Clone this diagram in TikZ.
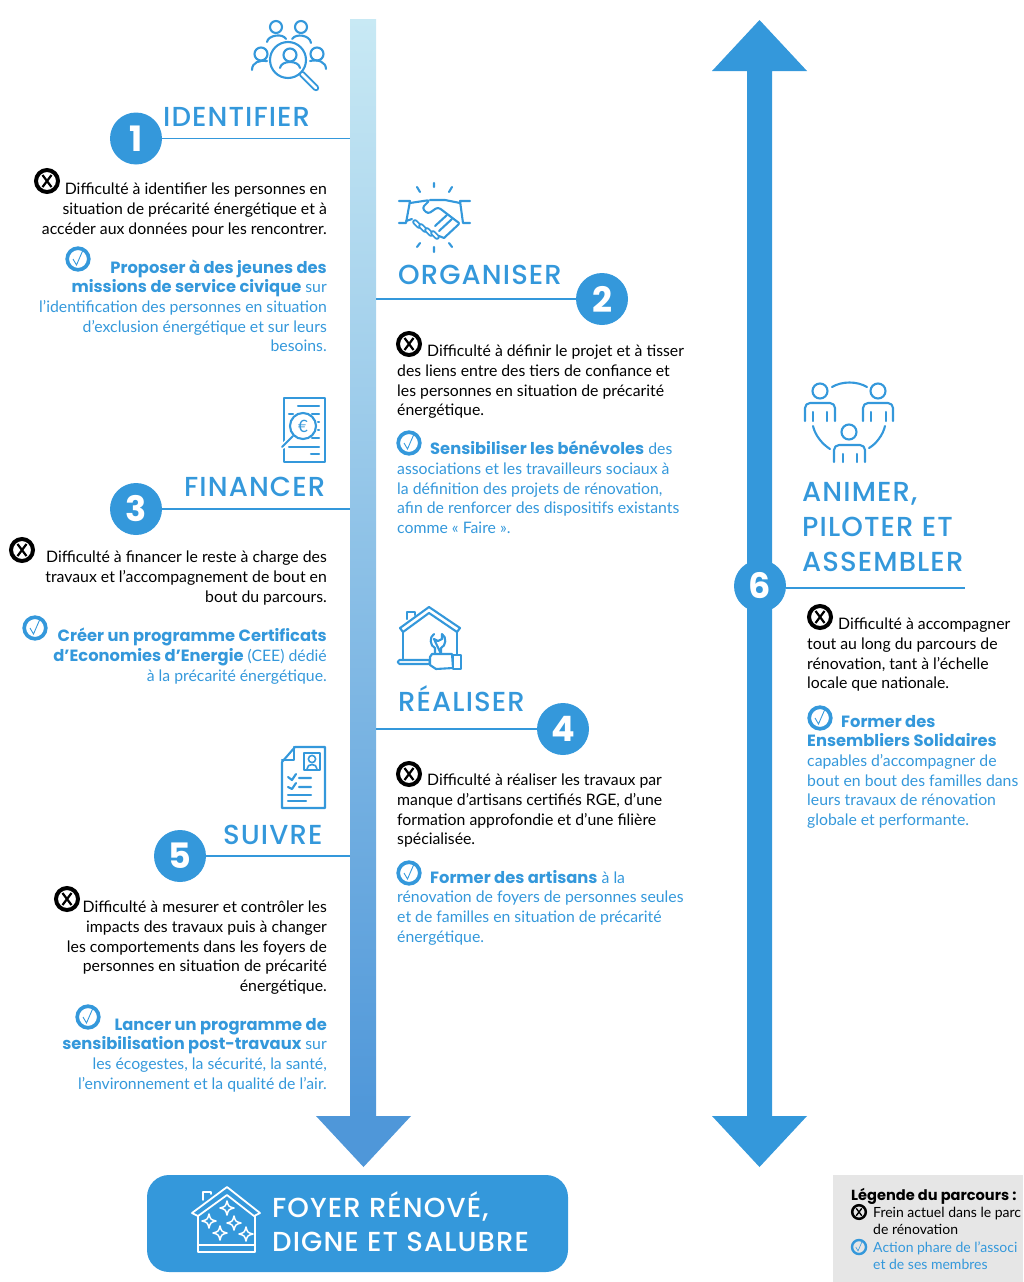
\documentclass[tikz,border=0pt]{standalone}
\usepackage{fontspec}
\usepackage{xcolor}
\setmainfont{Lato}
\newfontfamily\heavyfont{Poppins}[BoldFont={Poppins Bold}]
\newfontfamily\headfont{Poppins}[BoldFont={Poppins Medium}, LetterSpace=4]
\usetikzlibrary{positioning}
\definecolor{mainblue}{HTML}{3498DB}
\definecolor{headblue}{HTML}{4F97D9}
\definecolor{topblue}{HTML}{C8E9F4}
\definecolor{legendgray}{HTML}{E6E6E6}
\newcommand{\hv}[1]{{\heavyfont\bfseries\fontsize{16.3}{19.6}\selectfont #1}}
\tikzset{
  bodyright/.style={inner sep=0pt, yshift=-2pt, anchor=north east, align=right, font=\fontsize{15.8}{19.6}\selectfont},
  bodyleft/.style={inner sep=0pt, yshift=-2pt, anchor=north west, align=left, font=\fontsize{15.8}{19.6}\selectfont},
  stephead/.style={inner sep=0pt, anchor=base west, text=mainblue, font=\headfont\bfseries\fontsize{27.5}{30}\selectfont},
  stepdot/.style={circle, fill=mainblue, minimum size=52pt, inner sep=0pt, text=white, font=\heavyfont\bfseries\fontsize{35}{35}\selectfont},
  stepline/.style={draw=mainblue, line width=1.6pt},
  iconline/.style={draw=mainblue, line width=2.1pt, line cap=round, line join=round},
  iconwhite/.style={draw=white, line width=1.8pt, line cap=round, line join=round},
  capsule/.style={draw=mainblue, line width=6.4pt, line cap=round},
  capsuleinner/.style={draw=white, line width=2.8pt, line cap=round},
  pics/failmark/.style={code={
    \draw[black, line width=#1*4pt] (0,0) circle (11);
    \draw[black, line width=#1*2.2pt] (-4.5,-6) -- (4.5,6) (-4.5,6) -- (4.5,-6);}},
  pics/okmark/.style={code={
    \draw[mainblue, line width=#1*3.7pt] (0,0) circle (10.8);
    \draw[mainblue, line width=#1*.9pt] (-5,0) -- (-1.5,6) -- (5,-9);}}
}
\begin{document}
\begin{tikzpicture}[x=1pt, y=-1pt]
  \useasboundingbox (0,0) rectangle (1023,1282);

  % Central spine
  \node[minimum width=26pt, minimum height=1097pt, inner sep=0pt, top color=topblue, bottom color=headblue, shading angle=0] (spine) at (363,567.5) {};
  \fill[headblue] (316,1116) -- (411,1116) -- (363.5,1167) -- cycle;

  % Right double arrow
  \fill[mainblue] (747,71) -- (712,71) -- (759.5,20) -- (807,71) -- (772,71) -- (772,1116) -- (807,1116) -- (759.5,1167) -- (712,1116) -- (747,1116) -- cycle;

  % Steps
  \node[stepdot] (dotone) at (136,138.5) {1};
  \node[stepdot] (dottwo) at (602,299) {2};
  \node[stepdot] (dotthree) at (136,509) {3};
  \node[stepdot] (dotfour) at (563,729) {4};
  \node[stepdot] (dotfive) at (180,856) {5};
  \node[stepdot] (dotsix) at (760,586) {6};
  \coordinate (sixend) at (965,588);

  \draw[stepline] (dotone) -- (dotone -| spine.west);
  \draw[stepline] (dottwo) -- (dottwo -| spine.east);
  \draw[stepline] (dotthree) -- (dotthree -| spine.west);
  \draw[stepline] (dotfour) -- (dotfour -| spine.east);
  \draw[stepline] (dotfive) -- (dotfive -| spine.west);
  \draw[stepline] (dotsix.east |- sixend) -- (sixend);

  % Headings
  \node[stephead] (headone) at (163,126) {IDENTIFIER};
  \node[stephead] (headtwo) at (398,284) {ORGANISER};
  \node[stephead] (headthree) at (184,496) {FINANCER};
  \node[stephead] (headfour) at (398,711) {RÉALISER};
  \node[stephead] (headfive) at (223,844) {SUIVRE};
  \node[stephead] (headsixa) at (802,501) {ANIMER,};
  \node[stephead] (headsixb) at (802,536) {PILOTER ET};
  \node[stephead] (headsixc) at (802,571) {ASSEMBLER};

  % Step 1 text
  \pic at (47,181) {failmark=1};
  \node[bodyright] (failone) at (327,181) {Difficulté à identifier les personnes en\\situation de précarité énergétique et à\\accéder aux données pour les rencontrer.};
  \pic at (78,259) {okmark=1};
  \node[bodyright, text=mainblue] (okone) at (327,257.5) {\hv{Proposer à des jeunes des}\\\hv{missions de service civique} sur\\l’identification des personnes en situation\\d’exclusion énergétique et sur leurs\\besoins.};

  % Step 3 text
  \pic at (22,550) {failmark=1};
  \node[bodyright] (failthree) at (327,549) {Difficulté à financer le reste à charge des\\travaux et l’accompagnement de bout en\\bout du parcours.};
  \pic at (35,628) {okmark=1};
  \node[bodyright, text=mainblue] (okthree) at (327,626) {\hv{Créer un programme Certificats}\\\hv{d’Economies d’Energie} (CEE) dédié\\à la précarité énergétique.};

  % Step 5 text
  \pic at (67,899) {failmark=1};
  \node[bodyright] (failfive) at (327,899) {Difficulté à mesurer et contrôler les\\impacts des travaux puis à changer\\les comportements dans les foyers de\\personnes en situation de précarité\\énergétique.};
  \pic at (88,1017) {okmark=1};
  \node[bodyright, text=mainblue] (okfive) at (327,1016) {\hv{Lancer un programme de}\\\hv{sensibilisation post-travaux} sur\\les écogestes, la sécurité, la santé,\\l’environnement et la qualité de l’air.};

  % Step 2 text
  \pic at (409,344) {failmark=1};
  \node[bodyleft] (failtwo) at (397,343) {\hspace*{30pt}Difficulté à définir le projet et à tisser\\des liens entre des tiers de confiance et\\les personnes en situation de précarité\\énergétique.};
  \pic at (409,443) {okmark=1};
  \node[bodyleft, text=mainblue] (oktwo) at (397,439) {\hspace*{33pt}\hv{Sensibiliser les bénévoles} des\\associations et les travailleurs sociaux à\\la définition des projets de rénovation,\\afin de renforcer des dispositifs existants\\comme « Faire ».};

  % Step 4 text
  \pic at (409,774) {failmark=1};
  \node[bodyleft] (failfour) at (397,772) {\hspace*{30pt}Difficulté à réaliser les travaux par\\manque d’artisans certifiés RGE, d’une\\formation approfondie et d’une filière\\spécialisée.};
  \pic at (409,873) {okmark=1};
  \node[bodyleft, text=mainblue] (okfour) at (397,868) {\hspace*{33pt}\hv{Former des artisans} à la\\rénovation de foyers de personnes seules\\et de familles en situation de précarité\\énergétique.};

  % Step 6 text
  \pic at (820,617) {failmark=1};
  \node[bodyleft] (failsix) at (807,616) {\hspace*{31pt}Difficulté à accompagner\\tout au long du parcours de\\rénovation, tant à l’échelle\\locale que nationale.};
  \pic at (820,718) {okmark=1};
  \node[bodyleft, text=mainblue] (oksix) at (807,713) {\hspace*{34pt}\hv{Former des}\\\hv{Ensembliers Solidaires}\\capables d’accompagner de\\bout en bout des familles dans\\leurs travaux de rénovation\\globale et performante.};

  % Result box
  \node[rounded corners=22pt, fill=mainblue, minimum width=421pt, minimum height=97pt, inner sep=0pt] (result) at (357.5,1223.5) {};
  \node[stephead, text=white] (resulta) at (272,1217) {FOYER RÉNOVÉ,};
  \node[stephead, text=white] (resultb) at (272,1251) {DIGNE ET SALUBRE};
  \draw[iconwhite] (192,1213) -- (227,1187) -- (260,1213) -- (254,1216) -- (227,1195) -- (198,1216) -- cycle;
  \draw[iconwhite] (203,1200) -- (203,1192) -- (211,1192) -- (211,1194);
  \draw[iconwhite] (198,1216) -- (198,1252) -- (255,1252) -- (255,1216) (198,1245) -- (255,1245);
  \foreach \px/\py in {227/1208, 209/1221, 234/1223, 220/1233, 246/1234}
    \draw[iconwhite, line width=1.5pt] (\px,\py-7) .. controls (\px+1.5,\py-1.5) .. (\px+7,\py) .. controls (\px+1.5,\py+1.5) .. (\px,\py+7) .. controls (\px-1.5,\py+1.5) .. (\px-7,\py) .. controls (\px-1.5,\py-1.5) .. cycle;

  % Legend
  \fill[legendgray] (833,1175) rectangle (1023,1282);
  \node[inner sep=0pt, anchor=base west, font=\heavyfont\bfseries\fontsize{14.6}{17}\selectfont] (legendtitle) at (851,1200) {Légende du parcours :};
  \node[inner sep=0pt, anchor=north west, align=left, font=\fontsize{14}{17.4}\selectfont] (legendfail) at (873,1207) {Frein actuel dans le parc\\de rénovation};
  \node[inner sep=0pt, anchor=north west, align=left, text=mainblue, font=\fontsize{14}{17.4}\selectfont] (legendok) at (873,1241.5) {Action phare de l’associ\\et de ses membres};
  \pic[scale=.62] at (859,1212) {failmark=.62};
  \pic[scale=.65] at (859,1247) {okmark=.65};

  % Icon people search
  \draw[iconline] (276,27) circle (6) (301,27) circle (6) (261,54) circle (6.5) (317,54) circle (6.5);
  \draw[iconline] (267,42) .. controls (268,35) and (283,33) .. (286,39);
  \draw[iconline] (292,39) .. controls (296,33) and (310,35) .. (311,43);
  \draw[iconline] (252,70) .. controls (252,62) and (260,60) .. (267,61);
  \draw[iconline] (310,61) .. controls (318,59) and (326,62) .. (326,69);
  \draw[capsule] (302,74) -- (316,88);
  \draw[capsuleinner] (302,74) -- (316,88);
  \draw[iconline, fill=white] (288,60) circle (18);
  \draw[iconline] (290,55) circle (6.5);
  \draw[iconline] (280,68) .. controls (281,60) and (299,60) .. (300,68);

  % Icon handshake
  \draw[iconline] (434,183) -- (434,187) (417,187) -- (420,192) (452,187) -- (449,192);
  \draw[iconline] (434,247) -- (434,252) (417,247) -- (420,243) (452,247) -- (449,243);
  \draw[iconline] (399,201) -- (410,201) -- (406,223) -- (399,223);
  \draw[iconline] (470,201) -- (460,201) -- (463,223) -- (470,223);
  \draw[iconline, rounded corners=3pt] (410,203) -- (430,200) -- (422,208) -- (428,214) -- (438,207) -- (459,223);
  \draw[iconline] (430,200) -- (445,200) -- (460,203);
  \draw[iconline] (406,221) -- (412,219);
  \foreach \ax/\ay in {415/222, 421/226, 427/230, 433/233} {
    \draw[capsule, line width=5.6pt] (\ax,\ay) -- (\ax+4,\ay+4);
    \draw[capsuleinner, line width=2pt] (\ax,\ay) -- (\ax+4,\ay+4);
  }
  \draw[iconline] (459,224) -- (444,238) -- (439,236) (452,219) -- (439,231) (447,215) -- (435,226);

  % Icon euro sheet
  \draw[iconline] (284,398) rectangle (325,462);
  \draw[iconline] (298,406) -- (319,406) (289,414) -- (293,414) (312,414) -- (319,414) (318,422) -- (319,422) (318,430) -- (319,430) (312,438) -- (319,438) (289,447) -- (319,447) (311,454) -- (319,454);
  \draw[draw=white, line width=5pt] (292,437) -- (282,447);
  \draw[iconline] (293,436) -- (282,447);
  \draw[iconline, fill=white] (303,426) circle (13);
  \node[inner sep=0pt, text=mainblue, font=\fontsize{17}{17}\selectfont] (eurosign) at (303,426) {€};

  % Icon house repair
  \draw[iconline] (400,628) -- (429,607) -- (460,628) -- (457,632) -- (429,613) -- (403,632) -- cycle;
  \draw[iconline] (407,619) -- (407,612) -- (415,612) -- (415,615);
  \draw[iconline] (403,632) -- (403,660) (457,632) -- (457,654);
  \draw[iconline, rounded corners=1.5pt] (398,660) rectangle (430,664);
  \draw[iconline] (434,634) .. controls (429,637) and (430,646) .. (435,648) -- (435,654) (441,654) -- (441,648) .. controls (446,646) and (447,637) .. (442,634) -- (442,639) -- (438,641) -- (434,639) -- cycle;
  \draw[iconline, fill=white] (430,657) -- (432,654) -- (452,654) -- (453,668) -- (436,669) -- (430,665) -- cycle;
  \draw[iconline, fill=white] (453,655) rectangle (461,669);

  % Icon check sheet
  \draw[iconline] (282,762) -- (295,747) -- (325,747) -- (325,808) -- (282,808) -- cycle;
  \draw[iconline] (282,760) -- (294,760) -- (294,747);
  \draw[iconline] (304,753) rectangle (320,770);
  \draw[iconline, line width=1.6pt] (312,759) circle (3.6);
  \draw[iconline, line width=1.6pt] (307,769) .. controls (307,763) and (317,763) .. (317,769);
  \draw[iconline] (288,777) -- (292,780) -- (296,774) (299,778) -- (311,778);
  \draw[iconline] (288,787) -- (292,789) -- (296,783) (299,787) -- (311,787);
  \draw[iconline] (288,795) -- (311,795) (288,801) -- (306,801);

  % Icon three people
  \draw[iconline] (820,391) circle (7.5) (878,391) circle (7.5) (849,432) circle (7.5);
  \draw[iconline] (832,387) .. controls (842,381) and (857,381) .. (867,387);
  \draw[iconline, rounded corners=5pt] (805,421) -- (805,403) -- (835,403) -- (835,421);
  \draw[iconline] (813,412) -- (813,421) (827,412) -- (827,421);
  \draw[iconline, rounded corners=5pt] (863,421) -- (863,403) -- (893,403) -- (893,421);
  \draw[iconline] (871,412) -- (871,421) (886,412) -- (886,421);
  \draw[iconline, rounded corners=5pt] (834,462) -- (834,445) -- (865,445) -- (865,462);
  \draw[iconline] (843,454) -- (843,462) (857,454) -- (857,462);
  \draw[iconline] (813,426) .. controls (815,435) and (822,444) .. (830,449);
  \draw[iconline] (885,426) .. controls (883,435) and (876,444) .. (869,448);
\end{tikzpicture}
\end{document}
